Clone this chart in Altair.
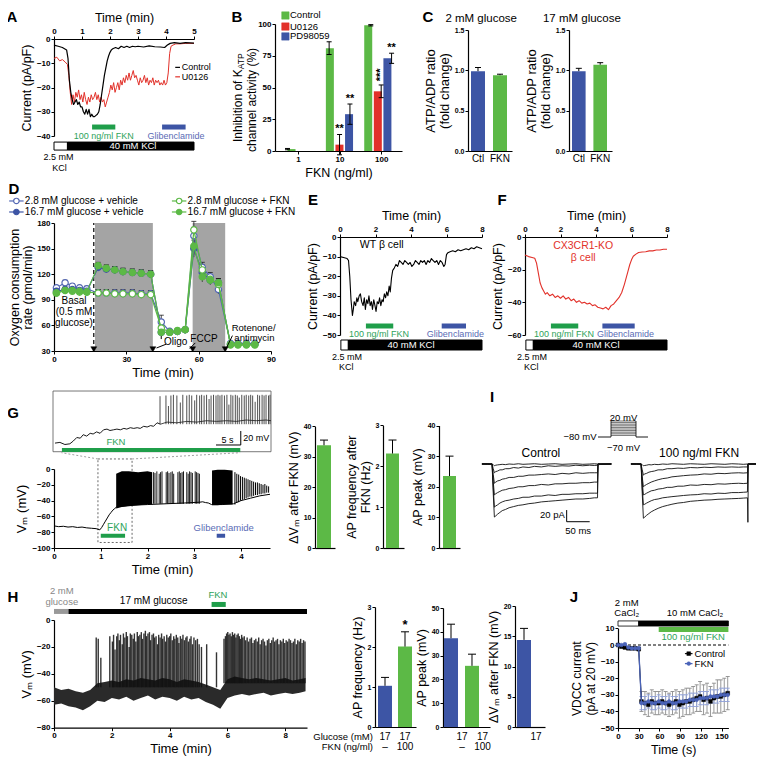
import altair as alt
import pandas as pd

F = "Liberation Sans"
OX = OY = 8
W, H = 748, 759
GREEN = "#5cb946"; RED = "#e2312a"; BLUE = "#3d55a5"
GTXT = "#2ea35a"; BTXT = "#5a6bb5"; GBAR = "#1f9e4a"

# ---------------- data ----------------
A_t_ctl = [0, 0.15, 0.3, 0.45, 0.5, 0.55, 0.6, 0.65, 0.7, 0.75, 0.8, 0.85, 0.9, 0.95, 1.0, 1.05, 1.1, 1.15, 1.2, 1.25,
           1.3, 1.35, 1.4, 1.45, 1.5, 1.55, 1.6, 1.65, 1.7, 1.75, 1.8, 1.85, 1.9, 1.95, 2.0, 2.05, 2.1, 2.2, 2.3, 2.4,
           2.5, 2.6, 2.7, 2.8, 2.9, 3.0, 3.2, 3.4, 3.6, 3.8, 3.95, 4.05, 4.15, 4.3, 4.5, 4.7, 5.0]
A_v_ctl = [-2.5, -3.0, -3.5, -4.5, -8, -17, -22, -25, -27, -26, -25, -27, -26, -28, -28, -30, -31, -29, -31, -29,
           -32, -31, -32, -32, -31.5, -31, -30, -27, -23, -19, -15, -12, -9, -7, -5.5, -4.5, -4, -3.5, -4, -3,
           -3.5, -3, -3.5, -3, -3.2, -3, -3.3, -2.8, -3.2, -3.3, -3.5, -2.5, -1.8, -1.5, -1.8, -1.5, -1.7]
A_t_u = [0, 0.1, 0.2, 0.3, 0.4,
         0.48, 0.53, 0.58, 0.63, 0.68, 0.73, 0.78, 0.83, 0.88, 0.93, 0.98, 1.03, 1.08, 1.13, 1.18, 1.23, 1.28, 1.33, 1.38, 1.43,
         1.48, 1.53, 1.58, 1.63, 1.68, 1.73, 1.78, 1.83, 1.88, 1.93, 1.98, 2.03, 2.08, 2.13, 2.18, 2.23, 2.28, 2.33, 2.38, 2.43,
         2.48, 2.53, 2.58, 2.63, 2.68, 2.73, 2.78, 2.83, 2.88, 2.93, 2.98, 3.03, 3.08, 3.13, 3.18, 3.23, 3.28, 3.33, 3.38, 3.43,
         3.48, 3.53, 3.58, 3.63, 3.68, 3.73, 3.78, 3.83, 3.88, 3.93, 3.98, 4.03, 4.08, 4.13, 4.18,
         4.25, 4.35, 4.5, 4.7, 5.0]
A_v_u = [-8, -7.5, -9, -8.5, -9.5,
         -10.5, -15, -22, -27, -23, -26, -22, -24, -21, -25, -23, -26, -22, -25, -27, -24, -26, -23, -25, -24,
         -22, -25, -23, -26, -24, -26, -25, -28, -26, -24, -22, -19, -21, -18, -22, -20, -18, -21, -17, -19,
         -16, -18, -15, -17, -14, -17, -15, -13, -16, -15, -17, -19, -16, -18, -17, -15, -18, -16, -19, -17,
         -18, -16, -19, -17, -18, -17, -19, -18, -19, -17, -19, -18, -14, -6, -3,
         -2.5, -2, -2, -1.8, -1.8]

B_ctrl = [1.5, 81, 99]; B_ctrl_err = [0.5, 5, 0.5]
B_u = [5, 47]; B_u_err = [8, 5]
B_pd = [29, 73]; B_pd_err = [8, 4]

C_cats = ["Ctl", "FKN"]
C2_vals = [0.99, 0.94]; C2_err = [0.045, 0.012]
C17_vals = [0.99, 1.07]; C17_err = [0.035, 0.025]

D_t = [1.0, 4.6, 7.6, 10.6, 13.6, 18.3, 21.7, 25.2, 28.6, 32.5, 36.2, 40.1, 44.5, 48.0, 51.2, 54.4,
       58.0, 61.5, 64.8, 68.2, 73.2, 76.3, 79.8, 83.3]
D_ob = [104, 110, 106, 104, 103, 98, 98, 98, 98, 98, 97, 97, 64, 53, 53, 55, 165, 128, 117, 102, 39, 39, 39, 39]
D_fb = [100, 102, 102, 101, 100, 128, 126, 125, 123, 122, 121, 120, 52, 52, 53, 55, 150, 122, 113, 110, 38, 38, 38, 38]
D_og = [98, 101, 100, 99, 99, 98, 98, 97, 97, 97, 96, 96, 57, 52, 53, 55, 172, 125, 114, 108, 38, 38, 38, 38]
D_fg = [98, 101, 101, 100, 99, 130, 127, 125, 123, 122, 121, 120, 52, 52, 54, 55, 153, 117, 113, 110, 37, 37, 37, 37]
D_err = [3, 3, 3, 3, 3, 4, 4, 4, 4, 4, 4, 4, 8, 2, 2, 2, 10, 6, 5, 5, 2, 2, 2, 2]

E_t = [0, 0.2, 0.4, 0.48, 0.55, 0.62, 0.7, 0.75, 0.8, 0.88, 0.95, 1.0, 1.08, 1.15, 1.22, 1.3, 1.37, 1.43, 1.5, 1.57,
       1.63, 1.7, 1.77, 1.83, 1.9, 1.97, 2.03, 2.1, 2.17, 2.23, 2.3, 2.37, 2.43, 2.5, 2.57, 2.63, 2.7, 2.77, 2.83, 2.9,
       2.97, 3.05, 3.15, 3.25, 3.35, 3.45, 3.55, 3.65, 3.75, 3.85, 3.95, 4.05, 4.15, 4.25, 4.35, 4.45, 4.55, 4.65, 4.75, 4.85,
       4.95, 5.05, 5.15, 5.25, 5.35, 5.45, 5.55, 5.65, 5.75, 5.85, 5.92, 6.0, 6.08, 6.2, 6.35, 6.5, 6.65, 6.8, 6.95, 7.1,
       7.25, 7.4, 7.55, 7.7, 7.85, 8.0]
E_v = [-10, -10.5, -11, -12, -20, -32, -40, -37, -33, -35, -31, -33, -30, -29, -33, -35, -31, -37, -32, -34,
       -30, -35, -33, -37, -32, -35, -38, -33, -34, -31, -35, -32, -33, -29, -31, -28, -30, -25, -28, -21,
       -17, -16, -14, -15, -12, -13, -14, -12, -13, -14, -13, -15, -14, -12, -13, -14, -12, -13, -12, -14,
       -12, -13, -11, -12, -13, -12, -14, -12, -13, -15, -14, -9, -8, -7.5, -7, -7.5, -6.5, -7, -6.5, -6,
       -6.5, -5.5, -6, -5, -5.5, -6]
F_t = [0, 0.2, 0.4, 0.55, 0.65, 0.75, 0.85, 0.95, 1.05, 1.15, 1.25, 1.4, 1.55, 1.7, 1.85, 2.0, 2.15, 2.3, 2.45, 2.6,
       2.75, 2.9, 3.05, 3.2, 3.35, 3.5, 3.65, 3.8, 3.95, 4.1, 4.25, 4.4, 4.55, 4.7, 4.85, 5.0, 5.15, 5.3, 5.45, 5.6,
       5.7, 5.8, 5.9, 6.0, 6.1, 6.25, 6.4, 6.6, 6.8, 7.0, 7.2, 7.4, 7.6, 7.8, 8.0]
F_v = [-11, -12, -12.5, -13, -16, -22, -28, -31, -33, -35, -34, -36, -35, -37, -36, -37.5, -36, -38, -37, -39,
       -38, -40, -39, -40.5, -40, -41, -40.5, -42, -41.5, -43, -43.5, -44, -43, -44.5, -42, -41, -39, -37, -34, -29,
       -25, -21, -17, -14, -11.8, -10.5, -9.5, -9.2, -9, -8.5, -8.5, -8, -8, -7.5, -7.5]

G_base_t = [0, 0.1, 0.2, 0.3, 0.4, 0.5, 0.6, 0.7, 0.8, 0.9, 0.98, 1.02, 1.06, 1.1, 1.14, 1.18, 1.22, 1.26, 1.3, 1.34]
G_base_v = [-72, -73, -72.5, -73.5, -73, -74, -73.5, -74.5, -75, -75.5, -77, -74, -70, -66, -62, -58, -55, -52, -50, -48]
G_mid_t = [1.34, 1.6, 2.0, 2.4, 2.8, 3.12, 3.18, 3.24, 3.3, 3.37, 3.6, 3.84, 4.0, 4.2, 4.4, 4.62]
G_mid_v = [-48, -46, -45, -44, -43, -42, -41.5, -42.5, -43, -45, -45, -44, -40, -37, -34, -32]
G_blk1_t = [1.33, 1.45, 1.6, 1.8, 2.0, 2.1]
G_blk1_lo = [-50, -48, -47, -46, -45, -45]
G_blk1_hi = [-6, -3, -3, -4, -3, -4]
G_blk2_t = [3.38, 3.5, 3.65, 3.82]
G_blk2_lo = [-46, -46, -45, -45]
G_blk2_hi = [-2, -1, -1, -2]
G_sp_t = [2.13, 2.16, 2.2, 2.25, 2.28, 2.31, 2.4, 2.43, 2.46, 2.5, 2.53, 2.56, 2.65, 2.68, 2.71, 2.74, 2.77,
          2.84, 2.87, 2.9, 2.93, 2.96, 3.02, 3.05, 3.08, 3.11]
G_sp_top = [-4, -5, -3, -6, -4, -3, -4, -3, -5, -4, -3, -6, -4, -3, -5, -4, -3, -4, -6, -3, -4, -5, -3, -4, -5, -6]
G_dec_t = [3.87, 3.91, 3.95, 3.99, 4.03, 4.07, 4.11, 4.15, 4.19, 4.23, 4.27, 4.31, 4.35, 4.39, 4.43, 4.47, 4.51, 4.55, 4.59]
G_dec_top = [-4, -6, -7, -9, -10, -11, -12, -13, -14, -15, -16, -17, -17, -18, -19, -20, -19, -21, -22]
G_dec_bot = [-45, -43, -42, -40, -39, -38, -37, -36, -35, -35, -34, -33, -33, -32, -32, -31, -31, -30, -30]

GI_pre_t = [0.4, 1.4, 2.4, 3.4, 4.1, 4.8, 5.5, 6.1, 6.8, 7.5, 8.1, 8.8, 9.5, 10.2, 10.9, 11.5, 12.2, 12.9, 13.6, 14.3,
            14.9, 15.6, 16.3, 17.0, 17.6, 18.3, 19.0, 19.7, 20.3, 21.0, 21.7]
GI_pre_v = [-73, -72, -75, -74, -70, -65, -66, -61, -63, -59, -60, -57, -59, -54, -53, -55, -54, -53, -54, -52,
            -53, -51, -52, -51, -52, -49, -50, -48, -49, -44, -46]
GI_post_t = [21.7, 23, 25, 27, 29, 31, 33, 35, 37, 39, 41, 43, 44]
GI_post_v = [-46, -43, -44, -42, -43, -41, -42, -41, -42, -40, -41, -40, -41]
GI_sp_t = [21.6, 22.8, 23.3, 23.8, 24.3, 25.0, 25.7, 26.2, 27.0, 27.5, 28.0, 28.6, 29.0, 29.6, 30.0, 30.5, 31.0, 31.5,
           31.9, 32.4, 32.9, 33.3, 33.7, 34.1, 34.6, 35.1, 35.5, 35.9, 36.3, 36.8, 37.2, 37.6, 38.1, 38.6, 39.0, 39.5,
           39.9, 40.3, 40.8, 41.3, 41.7, 42.2, 42.6, 43.0, 43.5, 43.8]
GI_sp_top = [-6, -5, -20, -5, -4, -5, -15, -4, -5, -4, -5, -12, -4, -5, -4, -5, -4, -10, -5, -4, -5, -4, -5, -4, -5,
             -4, -18, -4, -5, -4, -5, -8, -4, -5, -4, -5, -4, -5, -14, -4, -5, -4, -5, -4, -5, -4]

G_vals = [33.8, 2.31, 23.5]; G_err = [1.7, 0.33, 6.5]

I_tc = [-24, -12, -2, 0.5, 3, 6, 10, 15, 20, 27, 35, 45, 55, 65, 78, 90, 105, 120, 135, 150, 165, 180, 195, 210,
        220, 227, 228, 257]
I_ctl = [
    [0, 0.5, -0.5, -1, -3, -2, -1.5, -1, -0.5, -1, 0, -0.5, 0.5, -0.5, 0, 0.5, -0.5, 0, 0.5, -0.5, 0, 0.5, -0.5, 0,
     0.5, 0, 0, 0],
    [0.5, -0.5, 0, -8, -15, -13, -12, -10, -10, -8, -8, -6, -7, -5, -6, -4, -5, -3, -4, -3, -3.5, -2, -3, -2, -2.5,
     -2, 0, 0.5],
    [0, 0.5, -0.5, -18, -33, -31, -29, -28, -26, -25, -23, -23, -21, -21, -19, -19, -18, -17, -18, -16, -17, -15,
     -16, -15, -15, -15, 0.5, 0],
    [-0.5, 0, 0.5, -30, -53, -51, -49, -47, -45, -44, -42, -41, -39, -39, -37, -37, -35, -36, -34, -34, -33, -33,
     -32, -32, -31, -31, 0, -0.5],
    [0.5, -0.5, 0, -40, -74, -72, -70, -67, -65, -63, -62, -60, -59, -57, -57, -55, -55, -53, -54, -52, -52, -51,
     -51, -50, -50, -50, -1, 0.5],
    [0, 0.5, -0.5, -50, -91, -89, -86, -83, -80, -78, -75, -73, -71, -70, -68, -67, -65, -64, -63, -62, -61, -60,
     -60, -59, -58, -58, -1, 0],
]
I_tf = [-24, -12, -2, 0.5, 3, 6, 10, 15, 20, 27, 35, 45, 55, 65, 78, 90, 105, 120, 135, 150, 165, 180, 195, 210,
        220, 229, 230, 231, 258]
I_fkn = [
    [0, 0.5, -0.5, -1, -3, -2.5, -2, -1, -1.5, -0.5, -1, 0, -0.5, 0.5, 0, -0.5, 0.5, 0, -0.5, 0.5, 0, -0.5, 0.5, 0,
     -0.5, 0, 0, 0, 0],
    [0.5, 0, -0.5, -10, -19, -17, -16, -14, -13, -12, -10, -10, -8, -8, -7, -7.5, -6, -6.5, -5.5, -6, -5, -5.5, -5,
     -5.5, -5, -5, 0, 0, 0.5],
    [0, 0.5, 0, -22, -39, -37, -35, -33, -31, -29, -27, -25, -24, -22, -21, -20, -19, -18.5, -17, -17.5, -16, -16.5,
     -15.5, -15, -15.5, -15, 0, 0, 0],
    [-0.5, 0, 0.5, -30, -53, -52, -50, -48, -46, -45, -43, -42, -40, -40, -38, -38, -36, -36.5, -35, -35.5, -34,
     -34.5, -33.5, -33, -33.5, -33, 0, 0, 0],
    [0.5, 0, -0.5, -40, -70, -69, -67, -65, -63, -61, -60, -58, -57, -56, -55, -54, -53, -52.5, -51, -51.5, -50,
     -50.5, -49, -49, -48.5, -48, 0, 0, 0.5],
    [0, -0.5, 0.5, -50, -93, -91, -88, -85, -82, -79, -76, -73, -71, -69, -67, -66, -64, -63, -62, -61.5, -60.5,
     -60, -59.5, -59, -58.5, -58, -100, 0, 0],
]
I_steps = [-70, -60, -50, -40, -30, -20, -10, 0, 10, 20]

H_env_t = [0, 0.25, 0.5, 0.75, 1.0, 1.25, 1.5, 1.75, 2.0, 2.25, 2.5, 2.75, 3.0, 3.25, 3.5, 3.75, 4.0, 4.25, 4.5, 4.75,
           5.0, 5.25, 5.5, 5.75, 6.0, 6.25, 6.5, 6.75, 7.0, 7.25, 7.5, 7.75, 8.0, 8.25, 8.5, 8.7]
H_env_lo = [-63, -62, -64, -65, -67, -64, -60, -61, -58, -59, -57, -60, -58, -56, -59, -57, -58, -60, -57, -59,
            -58, -61, -63, -66, -58, -56, -55, -56, -55, -54, -56, -55, -54, -55, -54, -53]
H_env_hi = [-50, -52, -51, -53, -54, -52, -47, -46, -45, -46, -44, -45, -43, -44, -45, -43, -44, -46, -44, -45,
            -46, -48, -50, -52, -44, -42, -43, -44, -43, -44, -45, -44, -43, -45, -44, -43]
H_sp1_t = [1.46, 1.53, 1.62, 1.93, 2.02, 2.06, 2.11, 2.17, 2.21, 2.26,
           2.3, 2.36, 2.4, 2.45, 2.5, 2.54, 2.6, 2.64, 2.69, 2.74,
           2.78, 2.83, 2.88, 2.92, 2.97, 3.02, 3.06, 3.11, 3.16, 3.2,
           3.25, 3.3, 3.34, 3.39, 3.44, 3.48, 3.53, 3.58, 3.62, 3.67,
           3.72, 3.76, 3.81, 3.86, 3.9, 3.95, 4.0, 4.04, 4.09, 4.14,
           4.18, 4.23, 4.28, 4.32, 4.37, 4.42, 4.46, 4.51, 4.56, 4.6,
           4.65, 4.7, 4.74, 4.79, 4.84, 4.9, 4.96, 5.02, 5.1, 5.28, 5.62]
H_sp1_top = [-13, -14, -28, -12, -16, -11, -22, -12, -10, -15,
             -11, -18, -10, -13, -9, -12, -20, -10, -11, -14,
             -10, -16, -9, -12, -11, -9, -14, -10, -8, -12,
             -10, -9, -15, -11, -10, -13, -12, -18, -11, -13,
             -10, -14, -12, -16, -11, -13, -12, -10, -15, -12,
             -14, -11, -13, -17, -12, -14, -11, -15, -13, -12,
             -16, -14, -12, -18, -13, -15, -14, -18, -20, -18, -24]
H_sp2_t = [5.88, 5.93, 5.97, 6.01, 6.05, 6.09, 6.13, 6.17, 6.21, 6.25,
           6.29, 6.33, 6.37, 6.41, 6.45, 6.49, 6.53, 6.58, 6.63, 6.68,
           6.73, 6.78, 6.83, 6.88, 6.93, 6.98, 7.03, 7.08, 7.13, 7.18,
           7.23, 7.28, 7.33, 7.38, 7.43, 7.48, 7.53, 7.58, 7.63, 7.68,
           7.73, 7.78, 7.83, 7.88, 7.93, 7.98, 8.03, 8.08, 8.13, 8.18,
           8.23, 8.28, 8.33, 8.38, 8.43, 8.48, 8.53, 8.58, 8.63, 8.68]
H_sp2_top = [-14, -12, -10, -9, -11, -10, -12, -9, -11, -10,
             -13, -11, -10, -12, -14, -11, -13, -12, -15, -13,
             -16, -14, -13, -17, -15, -14, -16, -13, -18, -15,
             -14, -16, -19, -15, -14, -17, -15, -13, -16, -15,
             -14, -18, -15, -16, -14, -17, -15, -16, -14, -15,
             -17, -16, -14, -18, -15, -16, -14, -17, -15, -16]
H_freq = [1.03, 2.01]; H_freq_err = [0.21, 0.37]
H_peak = [37.3, 25.7]; H_peak_err = [5.9, 4.9]
H_dv = [14.4]; H_dv_err = [1.9]

J_t = [0, 5, 10, 15, 20, 25, 30, 34, 39, 44, 49, 54, 59, 64, 69, 74, 79, 84, 89, 94, 99, 104, 109, 114, 119, 124,
       129, 134, 139, 144, 149, 154, 159]
J_ctl = [0, -1, -1.5, -2, -2, -2, -2.5, -34, -35, -36, -34, -35, -35, -34, -35, -36, -35, -34, -36, -35, -34, -34,
         -33, -32, -31, -33, -32, -34, -32, -31, -31, -30, -29]
J_fkn = [0, 0, 0.5, -1.5, -2, -2, -2, -35, -35, -34, -35, -35, -34, -35, -35, -34, -35, -35, -34, -34, -34, -33,
         -33, -33, -32, -32, -32, -31, -31, -31, -30, -30, -30]
J_ctl_err = [0.5, 0.5, 0.5, 0.5, 0.5, 0.5, 1, 6, 7, 7, 7, 7, 7, 7, 7, 7, 7, 7, 8, 8, 8, 8, 8, 8, 9, 9, 9, 9, 9,
             10, 10, 10, 10]
J_fkn_err = [0.5, 0.5, 0.5, 0.5, 0.5, 0.5, 1, 4, 4, 4, 4, 4, 4, 4, 4, 4, 4, 4, 4, 4, 4, 4, 4, 4, 4, 4, 4, 4, 4,
             4, 4, 4, 4]

# ---------------- helpers ----------------
L = []


def P(xd, xr, yd, yr, band=None, pi=0.0):
    if band is None:
        xs = alt.Scale(domain=xd, range=[xr[0] - OX, xr[1] - OX], nice=False, zero=False)
        xt = "quantitative"
    else:
        xs = alt.Scale(type="band", domain=band, range=[xr[0] - OX, xr[1] - OX], paddingInner=pi, paddingOuter=0)
        xt = "nominal"
    ys = alt.Scale(domain=yd, range=[yr[0] - OY, yr[1] - OY], nice=False, zero=False)
    return dict(xs=xs, ys=ys, xt=xt, xd=xd, yd=yd, band=band)


def ex(p, f="x"):
    return alt.X(f, type=p["xt"], scale=p["xs"], axis=None)


def ey(p, f="y"):
    return alt.Y(f, type="quantitative", scale=p["ys"], axis=None)


AX = dict(labelFont=F, titleFont=F, labelFontSize=8, labelFontWeight="bold", titleFontSize=12,
          titleFontWeight="normal", labelColor="black", titleColor="black", domainColor="black",
          tickColor="black", grid=False, tickSize=3, labelPadding=1, titlePadding=3, labelFlush=False,
          labelOverlap=False, domainWidth=1.2, tickWidth=1, titleLineHeight=13.5)


def axL(X, **kw):
    d = dict(AX); d.update(kw)
    return alt.Axis(orient="left", offset=-(X - OX), **d)


def axB(Y, **kw):
    d = dict(AX); d.update(kw)
    return alt.Axis(orient="bottom", offset=(Y - OY) - H, **d)


def axT(Y, **kw):
    d = dict(AX); d.update(kw)
    return alt.Axis(orient="top", offset=-(Y - OY), **d)


def axis_layer(p, xa=None, ya=None):
    x0 = p["band"][0] if p["band"] else p["xd"][0]
    df = pd.DataFrame({"x": [x0], "y": [p["yd"][0]]})
    L.append(alt.Chart(df).mark_point(opacity=0, size=1).encode(
        x=alt.X("x", type=p["xt"], scale=p["xs"], axis=xa),
        y=alt.Y("y", type="quantitative", scale=p["ys"], axis=ya)))


def line(p, xs, ys, color="black", w=1.0, dash=None, op=1.0):
    df = pd.DataFrame({"x": xs, "y": ys, "i": list(range(len(xs)))})
    kw = dict(color=color, strokeWidth=w, opacity=op, strokeJoin="round")
    if dash:
        kw["strokeDash"] = dash
    L.append(alt.Chart(df).mark_line(**kw).encode(x=ex(p), y=ey(p), order="i:Q"))


def seg(p, x, y, x2, y2, color="black", w=1.0, dash=None, op=1.0):
    df = pd.DataFrame({"x": x, "y": y, "x2": x2, "y2": y2})
    kw = dict(color=color, strokeWidth=w, opacity=op)
    if dash:
        kw["strokeDash"] = dash
    L.append(alt.Chart(df).mark_rule(**kw).encode(x=ex(p), y=ey(p), x2=alt.X2("x2"), y2=alt.Y2("y2")))


def vrules(p, xs, lo, hi, color="black", w=1.0, op=1.0):
    df = pd.DataFrame({"x": xs, "y": lo, "y2": hi})
    L.append(alt.Chart(df).mark_rule(color=color, strokeWidth=w, opacity=op).encode(
        x=ex(p), y=ey(p), y2=alt.Y2("y2")))


def caps(p, xs, ys, size=6, color="black", w=1.0):
    df = pd.DataFrame({"x": xs, "y": ys})
    L.append(alt.Chart(df).mark_tick(orient="horizontal", size=size, thickness=w, color=color, opacity=1).encode(
        x=ex(p), y=ey(p)))


def rect(p, x, y, x2, y2, fill="black", stroke=None, sw=1.0, dash=None, fo=1.0):
    df = pd.DataFrame({"x": x, "y": y, "x2": x2, "y2": y2})
    kw = dict(fill=fill, fillOpacity=fo)
    if stroke:
        kw.update(stroke=stroke, strokeWidth=sw)
    if dash:
        kw["strokeDash"] = dash
    L.append(alt.Chart(df).mark_rect(**kw).encode(x=ex(p), y=ey(p), x2=alt.X2("x2"), y2=alt.Y2("y2")))


def area(p, xs, lo, hi, color="black", op=1.0):
    df = pd.DataFrame({"x": xs, "y": lo, "y2": hi})
    L.append(alt.Chart(df).mark_area(color=color, opacity=op).encode(x=ex(p), y=ey(p), y2=alt.Y2("y2")))


def texts(p, xs, ys, ts, size=10, color="black", align="center", baseline="middle", angle=0, weight="normal"):
    df = pd.DataFrame({"x": xs, "y": ys, "t": ts})
    kw = dict(font=F, fontSize=size, color=color, align=align, baseline=baseline, fontWeight=weight)
    if angle:
        kw["angle"] = angle
    L.append(alt.Chart(df).mark_text(**kw).encode(x=ex(p), y=ey(p), text="t:N"))


def pts(p, xs, ys, fill, stroke, size=40, shape="circle", sw=1.2):
    df = pd.DataFrame({"x": xs, "y": ys})
    L.append(alt.Chart(df).mark_point(shape=shape, filled=True, fill=fill, stroke=stroke, strokeWidth=sw,
                                      size=size, opacity=1).encode(x=ex(p), y=ey(p)))


def bars(p, cats, vals, colors):
    df = pd.DataFrame({"x": cats, "y": vals, "c": colors, "z": 0})
    L.append(alt.Chart(df).mark_bar().encode(x=ex(p), y=ey(p), y2=alt.Y2("z"),
                                             color=alt.Color("c:N", scale=None)))


def qbars(p, xs, vals, color, size=8):
    df = pd.DataFrame({"x": xs, "y": vals, "z": 0})
    L.append(alt.Chart(df).mark_bar(size=size, color=color).encode(x=ex(p), y=ey(p), y2=alt.Y2("z")))


def upper_err(p, cats, vals, errs, size=7):
    hi = [v + e for v, e in zip(vals, errs)]
    vrules(p, cats, vals, hi)
    caps(p, cats, hi, size)


# ---------------- page letters ----------------
pPage = P([0, 764], [0, 764], [0, 775], [0, 775])
texts(pPage, [12, 237, 428, 14, 313, 502, 13, 13, 492, 574],
      [17, 17, 17, 189, 200, 200, 413, 597, 397, 597],
      ["A", "B", "C", "D", "E", "F", "G", "H", "I", "J"], size=15, weight="bold")

# ---------------- Panel A ----------------
pA = P([0, 5], [54, 194], [-40, 0], [136, 39])
axis_layer(pA, axT(39, values=[0, 1, 2, 3, 4, 5], title="Time (min)", titleFontSize=12.5),
           axL(54, values=[0, -10, -20, -30, -40], title="Current (pA/pF)", titleFontSize=12.5))
line(pA, A_t_u, A_v_u, RED, 1.0)
line(pA, A_t_ctl, A_v_ctl, "black", 1.2)
seg(pA, [4.33], [-11.7], [4.5], [-11.7], "black", 1.2)
seg(pA, [4.33], [-15.6], [4.5], [-15.6], RED, 1.2)
texts(pA, [4.56, 4.56], [-11.7, -15.6], ["Control", "U0126"], size=9, align="left")
seg(pA, [1.36], [-36.3], [2.19], [-36.3], GBAR, 5)
seg(pA, [3.86], [-36.3], [4.7], [-36.3], BLUE, 5)
texts(pA, [1.78], [-39.8], ["100 ng/ml FKN"], size=9, color=GTXT)
texts(pA, [4.36], [-39.8], ["Glibenclamide"], size=9, color=BTXT)
rect(pA, [0], [-42.5], [0.48], [-45.8], fill="white", stroke="black")
rect(pA, [0.48], [-42.5], [5], [-45.8], fill="black", stroke="black")
texts(pA, [2.82], [-44.2], ["40 mM KCl"], size=9.5, color="white")
texts(pA, [0.16, 0.2], [-48.7, -53.2], ["2.5 mM", "KCl"], size=9)

# ---------------- Panel B ----------------
pB = P([0.45, 3.5], [275, 402], [0, 100], [151, 24])
axis_layer(pB, axB(151, values=[1, 2, 3], labelExpr="datum.value == 1 ? '1' : datum.value == 2 ? '10' : '100'",
                   title="FKN (ng/ml)", titleFontSize=12.5),
           axL(275, values=[0, 25, 50, 75, 100], title=None))
texts(pB, [-0.44], [7.1], ["Inhibition of K"], size=12, align="left", angle=270)
texts(pB, [-0.36], [64.3], ["ATP"], size=8.5, align="left", angle=270)
texts(pB, [-0.10], [40.2], ["channel activity (%)"], size=12, angle=270)
qbars(pB, [0.75, 1.75, 2.75], B_ctrl, GREEN)
qbars(pB, [2, 3], B_u, RED)
qbars(pB, [2.25, 3.25], B_pd, BLUE)
for xs, v, e in [([0.75, 1.75, 2.75], B_ctrl, B_ctrl_err), ([2, 3], B_u, B_u_err), ([2.25, 3.25], B_pd, B_pd_err)]:
    lo = [a - b for a, b in zip(v, e)]
    hi = [a + b for a, b in zip(v, e)]
    vrules(pB, xs, lo, hi)
    caps(pB, xs, lo, 5)
    caps(pB, xs, hi, 5)
texts(pB, [2, 2.25, 3.25], [17, 41, 81], ["**", "**", "**"], size=11, weight="bold")
texts(pB, [3], [60], ["***"], size=11, weight="bold", angle=270)
pts(pB, [0.7], [106.7], GREEN, GREEN, 55, "square", 0.5)
pts(pB, [0.7], [98], RED, RED, 55, "square", 0.5)
pts(pB, [0.7], [90.2], BLUE, BLUE, 55, "square", 0.5)
texts(pB, [0.81, 0.81, 0.81], [106.7, 98, 90.2], ["Control", "U0126", "PD98059"], size=9.5, align="left")

# ---------------- Panel C ----------------
for xr, axr, vals, errs, ttl in [([471, 507], [468, 512], C2_vals, C2_err, "2 mM glucose"),
                                  ([572, 607], [569, 612], C17_vals, C17_err, "17 mM glucose")]:
    pc = P(None, xr, [0, 1.5], [151, 30], band=C_cats, pi=0.364)
    pca = P([0, 1], axr, [0, 1.5], [151, 30])
    axis_layer(pca, axB(151, ticks=False, labels=False, title=None),
               axL(axr[0], values=[0, 0.5, 1.0, 1.5], format=".1f", labelFontSize=7,
                   title=["ATP/ADP ratio", "(fold change)"], titleFontSize=13))
    bars(pc, C_cats, vals, [BLUE, GREEN])
    upper_err(pc, C_cats, vals, errs, 6)
    texts(pc, C_cats, [-0.1, -0.1], C_cats, size=10)
    texts(pca, [0.3], [1.636], [ttl], size=11.5)

# ---------------- Panel D ----------------
pD = P([0, 90], [54, 271], [30, 180], [351, 223])
rect(pD, [17, 57.5], [30, 30], [41, 71], [180, 180], fill="#a4a4a4")
seg(pD, [16.5], [30], [16.5], [180], "black", 1.2, dash=[4, 3])
axis_layer(pD, axB(351, values=[0, 30, 60, 90], title="Time (min)", titleFontSize=13),
           axL(54, values=[30, 60, 90, 120, 150, 180], title=["Oxygen consumption", "rate (pmol/min)"],
               titleFontSize=12.5, titlePadding=2, titleLineHeight=13))
for vals in [D_ob, D_fb, D_og, D_fg]:
    lo = [a - b for a, b in zip(vals, D_err)]
    hi = [a + b for a, b in zip(vals, D_err)]
    vrules(pD, D_t, lo, hi, "#222222", 0.8)
    caps(pD, D_t, hi, 5, "#222222", 0.8)
line(pD, D_t, D_ob, "#5468b4", 1.2)
line(pD, D_t, D_fb, BLUE, 1.2)
pts(pD, D_t, D_ob, "white", "#5468b4", 40)
pts(pD, D_t, D_fb, BLUE, BLUE, 40)
line(pD, D_t, D_og, GREEN, 1.2)
line(pD, D_t, D_fg, GREEN, 1.2)
pts(pD, D_t, D_og, "white", GREEN, 40)
pts(pD, D_t, D_fg, GREEN, GREEN, 40)
pts(pD, [16.5, 41, 57.5, 71], [32, 32, 32, 32], "black", "black", 35, "triangle-down", 0.5)
texts(pD, [8.3, 8.3, 8.3], [88.6, 75.7, 62.8], ["Basal", "(0.5 mM", "glucose)"], size=10)
texts(pD, [50.5], [40.9], ["Oligo"], size=10)
seg(pD, [46.5], [38], [42.5], [33.5], "black", 1)
texts(pD, [62.2], [44.5], ["FCCP"], size=10)
seg(pD, [58.6], [39.5], [56.3], [33], "black", 1)
texts(pD, [73.7, 74.8], [57.2, 45.4], ["Rotenone/", "antimycin"], size=9.5, align="left")
seg(pD, [74], [48], [71.5], [33.5], "black", 1)
for yy, fill, col, lab, x0 in [(205.8, "white", "#5468b4", "2.8 mM glucose + vehicle", -18.6),
                                (192.9, BLUE, BLUE, "16.7 mM glucose + vehicle", -18.6),
                                (205.8, "white", GREEN, "2.8 mM glucose + FKN", 48.9),
                                (192.9, GREEN, GREEN, "16.7 mM glucose + FKN", 48.9)]:
    seg(pD, [x0], [yy], [x0 + 6.0], [yy], col, 1.2)
    pts(pD, [x0 + 3.0], [yy], fill, col, 30)
    texts(pD, [x0 + 6.5], [yy], [lab], size=10, align="left")

# ---------------- Panel E / F ----------------
for (xr, yd, tv, vv, col, gl, tx) in [([340, 482], [-50, 0], E_t, E_v, "black", (5.73, 7.1, 6.5), "E"),
                                      ([525, 667], [-60, 0], F_t, F_v, RED, (4.36, 6.18, 5.66), "F")]:
    p = P([0, 8], xr, yd, [335, 237])
    k = (yd[0]) / 98.0
    yv = lambda ref: (ref - 237) * k
    axis_layer(p, axT(237, values=[0, 2, 4, 6, 8], title="Time (min)", titleFontSize=12.5),
               axL(xr[0], values=list(range(0, yd[0] - 1, -10 if tx == "E" else -20)), title="Current (pA/pF)",
                   titleFontSize=12.5))
    line(p, tv, vv, col, 1.1)
    seg(p, [1.46], [yv(326)], [3.0], [yv(326)], GBAR, 5)
    seg(p, [gl[0]], [yv(326)], [gl[1]], [yv(326)], BLUE, 5)
    texts(p, [2.2], [yv(333.5)], ["100 ng/ml FKN"], size=9, color=GTXT)
    texts(p, [gl[2]], [yv(333.5)], ["Glibenclamide"], size=9, color=BTXT)
    rect(p, [0.05], [yv(340)], [0.47], [yv(350)], fill="white", stroke="black")
    rect(p, [0.47], [yv(340)], [8], [yv(350)], fill="black", stroke="black")
    texts(p, [4.0], [yv(345)], ["40 mM KCl"], size=9.5, color="white")
    texts(p, [0.4, 0.35], [yv(357), yv(367)], ["2.5 mM", "KCl"], size=9)
    if tx == "E":
        texts(p, [2.35], [-4.3], ["WT β cell"], size=10.5)
    else:
        texts(p, [3.28, 3.28], [-5.7, -12.9], ["CX3CR1-KO", "β cell"], size=10.5, color=RED)

# ---------------- Panel G ----------------
pG = P([0, 4.62], [54, 270], [-100, 0], [548, 469])
axis_layer(pG, axB(548, values=[0, 1, 2, 3, 4], title="Time (min)", titleFontSize=13),
           axL(54, values=[0, -20, -40, -60, -80, -100], title="Vₘ (mV)", titleFontSize=13))
rect(pG, [0.94], [-93], [1.67], [12.7], fill="white", fo=0, stroke="#444444", sw=0.8, dash=[2, 2])
seg(pG, [0.94, 1.67], [12.7, 12.7], [0.16, 3.98], [20.6, 20.6], "#777777", 0.7, dash=[2, 2])
line(pG, G_base_t, G_base_v, "black", 1.0)
line(pG, G_mid_t, G_mid_v, "black", 1.0)
area(pG, G_blk1_t, G_blk1_lo, G_blk1_hi, "black")
area(pG, G_blk2_t, G_blk2_lo, G_blk2_hi, "black")
vrules(pG, G_sp_t, [-44 for _ in G_sp_t], G_sp_top, "black", 0.9)
vrules(pG, G_dec_t, G_dec_bot, G_dec_top, "black", 1.0)
seg(pG, [1.0], [-84.5], [1.52], [-84.5], GBAR, 4)
seg(pG, [3.48], [-84.5], [3.66], [-84.5], BLUE, 4)
texts(pG, [1.35], [-74.7], ["FKN"], size=10, color=GTXT)
texts(pG, [3.63], [-74.7], ["Glibenclamide"], size=9.5, color=BTXT)

pGi = P([0, 44], [53, 271], [-90, 0], [455, 392])
rect(pGi, [0], [-85.3], [44], [1.4], fill="white", fo=0, stroke="#555555", sw=0.8)
line(pGi, GI_pre_t, GI_pre_v, "black", 0.9)
line(pGi, GI_post_t, GI_post_v, "#333333", 0.9)
vrules(pGi, GI_sp_t, [-46 for _ in GI_sp_t], GI_sp_top, "#222222", 0.8)
seg(pGi, [1.8], [-82.9], [37.8], [-82.9], GBAR, 4)
texts(pGi, [12.7], [-71.4], ["FKN"], size=9.5, color=GTXT)
seg(pGi, [32.9], [-75.7], [37.9], [-75.7], "black", 1)
seg(pGi, [37.9], [-75.7], [37.9], [-55.7], "black", 1)
texts(pGi, [35.2], [-69], ["5 s"], size=9)
texts(pGi, [38.4], [-65], ["20 mV"], size=9, align="left")

for i, (br, axr, yd, yr, ttl, tv) in enumerate([
        ([317, 331], [315, 335], [0, 40], [548, 426.4], "ΔVₘ after FKN (mV)", [0, 10, 20, 30, 40]),
        ([386, 399], [383, 404], [0, 3], [548, 425.3], ["AP frequency after", "FKN (Hz)"], [0, 1, 2, 3]),
        ([443, 456], [439, 460], [0, 40], [548, 425.5], "AP peak (mV)", [0, 10, 20, 30, 40])]):
    pb = P(None, br, yd, yr, band=["FKN"])
    pba = P([0, 1], axr, yd, yr)
    axis_layer(pba, axB(548, ticks=False, labels=False, title=None),
               axL(axr[0], values=tv, title=ttl, titleFontSize=12.5, labelFontSize=7))
    bars(pb, ["FKN"], [G_vals[i]], [GREEN])
    upper_err(pb, ["FKN"], [G_vals[i]], [G_err[i]], 8)

# ---------------- Panel I ----------------
pIc = P([0, 230], [493, 598.9], [-100, 10], [522.3, 458.2])
pIf = P([0, 230], [642, 747.9], [-100, 10], [522.3, 458.2])
for tr in I_ctl:
    line(pIc, I_tc, tr, "#111111", 0.9)
for tr in I_fkn:
    line(pIf, I_tf, tr, "#111111", 0.9)
seg(pIc, [160], [-79], [160], [-99], "black", 1)
seg(pIc, [160], [-99], [210], [-99], "black", 1)
texts(pIc, [156], [-87], ["20 pA"], size=9.5, align="right")
texts(pIc, [185], [-115], ["50 ms"], size=9.5)
texts(pIc, [104], [18.9], ["Control"], size=12)
texts(pIf, [124], [18.9], ["100 ng/ml FKN"], size=12)
pIp = P([0, 100], [598, 648], [-80, 20], [437, 421])
seg(pIp, [0, 76], [-80, -80], [26, 100], [-80, -80], "black", 0.9)
seg(pIp, [26 for _ in I_steps], I_steps, [76 for _ in I_steps], I_steps, "#333333", 0.7)
seg(pIp, [26, 76], [-80, -80], [26, 76], [20, 20], "black", 0.8)
texts(pIp, [51], [36], ["20 mV"], size=9.5)
texts(pIp, [-3], [-80], ["−80 mV"], size=9.5, align="right")
texts(pIp, [51], [-148], ["−70 mV"], size=9.5)

# ---------------- Panel H ----------------
pH = P([0, 8.75], [54, 307], [-80, 0], [727.7, 620])
axis_layer(pH, axB(727.7, values=[0, 2, 4, 6, 8], title="Time (min)", titleFontSize=13),
           axL(54, values=[0, -20, -40, -60, -80], title="Vₘ (mV)", titleFontSize=13))
area(pH, H_env_t, H_env_lo, H_env_hi, "#2a2a2a")
vrules(pH, H_sp1_t, [-50 for _ in H_sp1_t], H_sp1_top, "#111111", 1.4, 0.85)
vrules(pH, H_sp2_t, [-47 for _ in H_sp2_t], H_sp2_top, "#111111", 1.4, 0.85)
rect(pH, [0], [4.5], [0.5], [8.2], fill="#999999")
rect(pH, [0.5], [4.5], [8.75], [8.2], fill="black")
rect(pH, [5.45], [9.7], [5.94], [13.4], fill=GBAR)
texts(pH, [0.27, 0.27], [21.6, 13.4], ["2 mM", "glucose"], size=9.5, color="#888888")
texts(pH, [3.45], [14.3], ["17 mM glucose"], size=10)
texts(pH, [5.67], [18.5], ["FKN"], size=9.5, color=GTXT)

pH1 = P(None, [378, 412], [0, 3], [727, 607], band=["a", "b"], pi=0.3)
pH1a = P([0, 1], [375, 416], [0, 3], [727, 607])
axis_layer(pH1a, axB(727, ticks=False, labels=False, title=None),
           axL(375, values=[0, 1, 2, 3], title="AP frequency (Hz)", titleFontSize=12.5, labelFontSize=7))
bars(pH1, ["a", "b"], H_freq, [BLUE, GREEN])
upper_err(pH1, ["a", "b"], H_freq, H_freq_err, 8)
texts(pH1, ["b"], [2.55], ["*"], size=13, weight="bold")
texts(pH1, ["a", "b"], [-0.25, -0.25], ["17", "17"], size=10)
texts(pH1, ["a", "b"], [-0.51, -0.51], ["–", "100"], size=10)
texts(pH1a, [-0.05, -0.05], [-0.25, -0.51], ["Glucose (mM)", "FKN (ng/ml)"], size=9.5, align="right")

pH2 = P(None, [444, 479], [0, 50], [727, 608], band=["a", "b"], pi=0.333)
pH2a = P([0, 1], [443, 490], [0, 50], [727, 608])
axis_layer(pH2a, axB(727, ticks=False, labels=False, title=None),
           axL(443, values=[0, 10, 20, 30, 40, 50], title="AP peak (mV)", titleFontSize=12.5, labelFontSize=7))
bars(pH2, ["a", "b"], H_peak, [BLUE, GREEN])
upper_err(pH2, ["a", "b"], H_peak, H_peak_err, 8)
texts(pH2a, [0.404, 0.84], [-4.2, -4.2], ["17", "17"], size=10)
texts(pH2a, [0.404, 0.84], [-8.6, -8.6], ["–", "100"], size=10)

pH3 = P(None, [517, 531], [0, 20], [727, 606], band=["a"])
pH3a = P([0, 1], [515, 545], [0, 20], [727, 606])
axis_layer(pH3a, axB(727, ticks=False, labels=False, title=None),
           axL(515, values=[0, 5, 10, 15, 20], title="ΔVₘ after FKN (mV)", titleFontSize=12.5, labelFontSize=7))
bars(pH3, ["a"], H_dv, [BLUE])
upper_err(pH3, ["a"], H_dv, H_dv_err, 8)
texts(pH3a, [0.7], [-1.65], ["17"], size=10)

# ---------------- Panel J ----------------
pJ = P([0, 160], [618, 728.4], [-50, 10], [728, 628.4])
axis_layer(pJ, axB(728, values=[0, 30, 60, 90, 120, 150], title="Time (s)", titleFontSize=12.5),
           axL(618, values=[10, 0, -10, -20, -30, -40, -50], title=["VDCC current", "(pA at 20 mV)"],
               titleFontSize=12))
seg(pJ, [0], [0], [160], [0], "black", 1, dash=[3, 2])
for vals, errs, col in [(J_ctl, J_ctl_err, "#8c8c8c"), (J_fkn, J_fkn_err, "#8fa0d8")]:
    lo = [a - b for a, b in zip(vals, errs)]
    hi = [a + b for a, b in zip(vals, errs)]
    vrules(pJ, J_t, lo, hi, col, 0.9)
    caps(pJ, J_t, lo, 4, col, 0.9)
    caps(pJ, J_t, hi, 4, col, 0.9)
line(pJ, J_t, J_ctl, "black", 1.1)
pts(pJ, J_t, J_ctl, "black", "black", 14, "square", 0.5)
line(pJ, J_t, J_fkn, "#4a63b8", 1.3)
pts(pJ, J_t, J_fkn, "#4a63b8", "#4a63b8", 14, "circle", 0.5)
rect(pJ, [0], [11.4], [30], [14.5], fill="white", stroke="black", sw=0.8)
rect(pJ, [30], [11.4], [160], [14.5], fill="black", stroke="black", sw=0.8)
rect(pJ, [59], [7.8], [160], [10.8], fill=GREEN)
texts(pJ, [12.6, 12.6], [25.5, 19], ["2 mM", "CaCl₂"], size=9.5)
texts(pJ, [111.6], [19], ["10 mM CaCl₂"], size=9.5)
texts(pJ, [109], [4.8], ["100 ng/ml FKN"], size=9.5, color=GTXT)
seg(pJ, [97], [-5.2], [108], [-5.2], "black", 1.1)
pts(pJ, [102.5], [-5.2], "black", "black", 14, "square", 0.5)
seg(pJ, [97], [-11.2], [108], [-11.2], "#4a63b8", 1.3)
pts(pJ, [102.5], [-11.2], "#4a63b8", "#4a63b8", 14, "circle", 0.5)
texts(pJ, [111, 111], [-5.2, -11.2], ["Control", "FKN"], size=9.5, align="left")

chart = alt.layer(*L).resolve_scale(x="independent", y="independent").resolve_axis(
    x="independent", y="independent").properties(
    width=W, height=H, padding=0, autosize=alt.AutoSizeParams(type="none")).configure_view(stroke=None)

chart.save("out.html", embed_options={"renderer": "svg", "actions": False})
